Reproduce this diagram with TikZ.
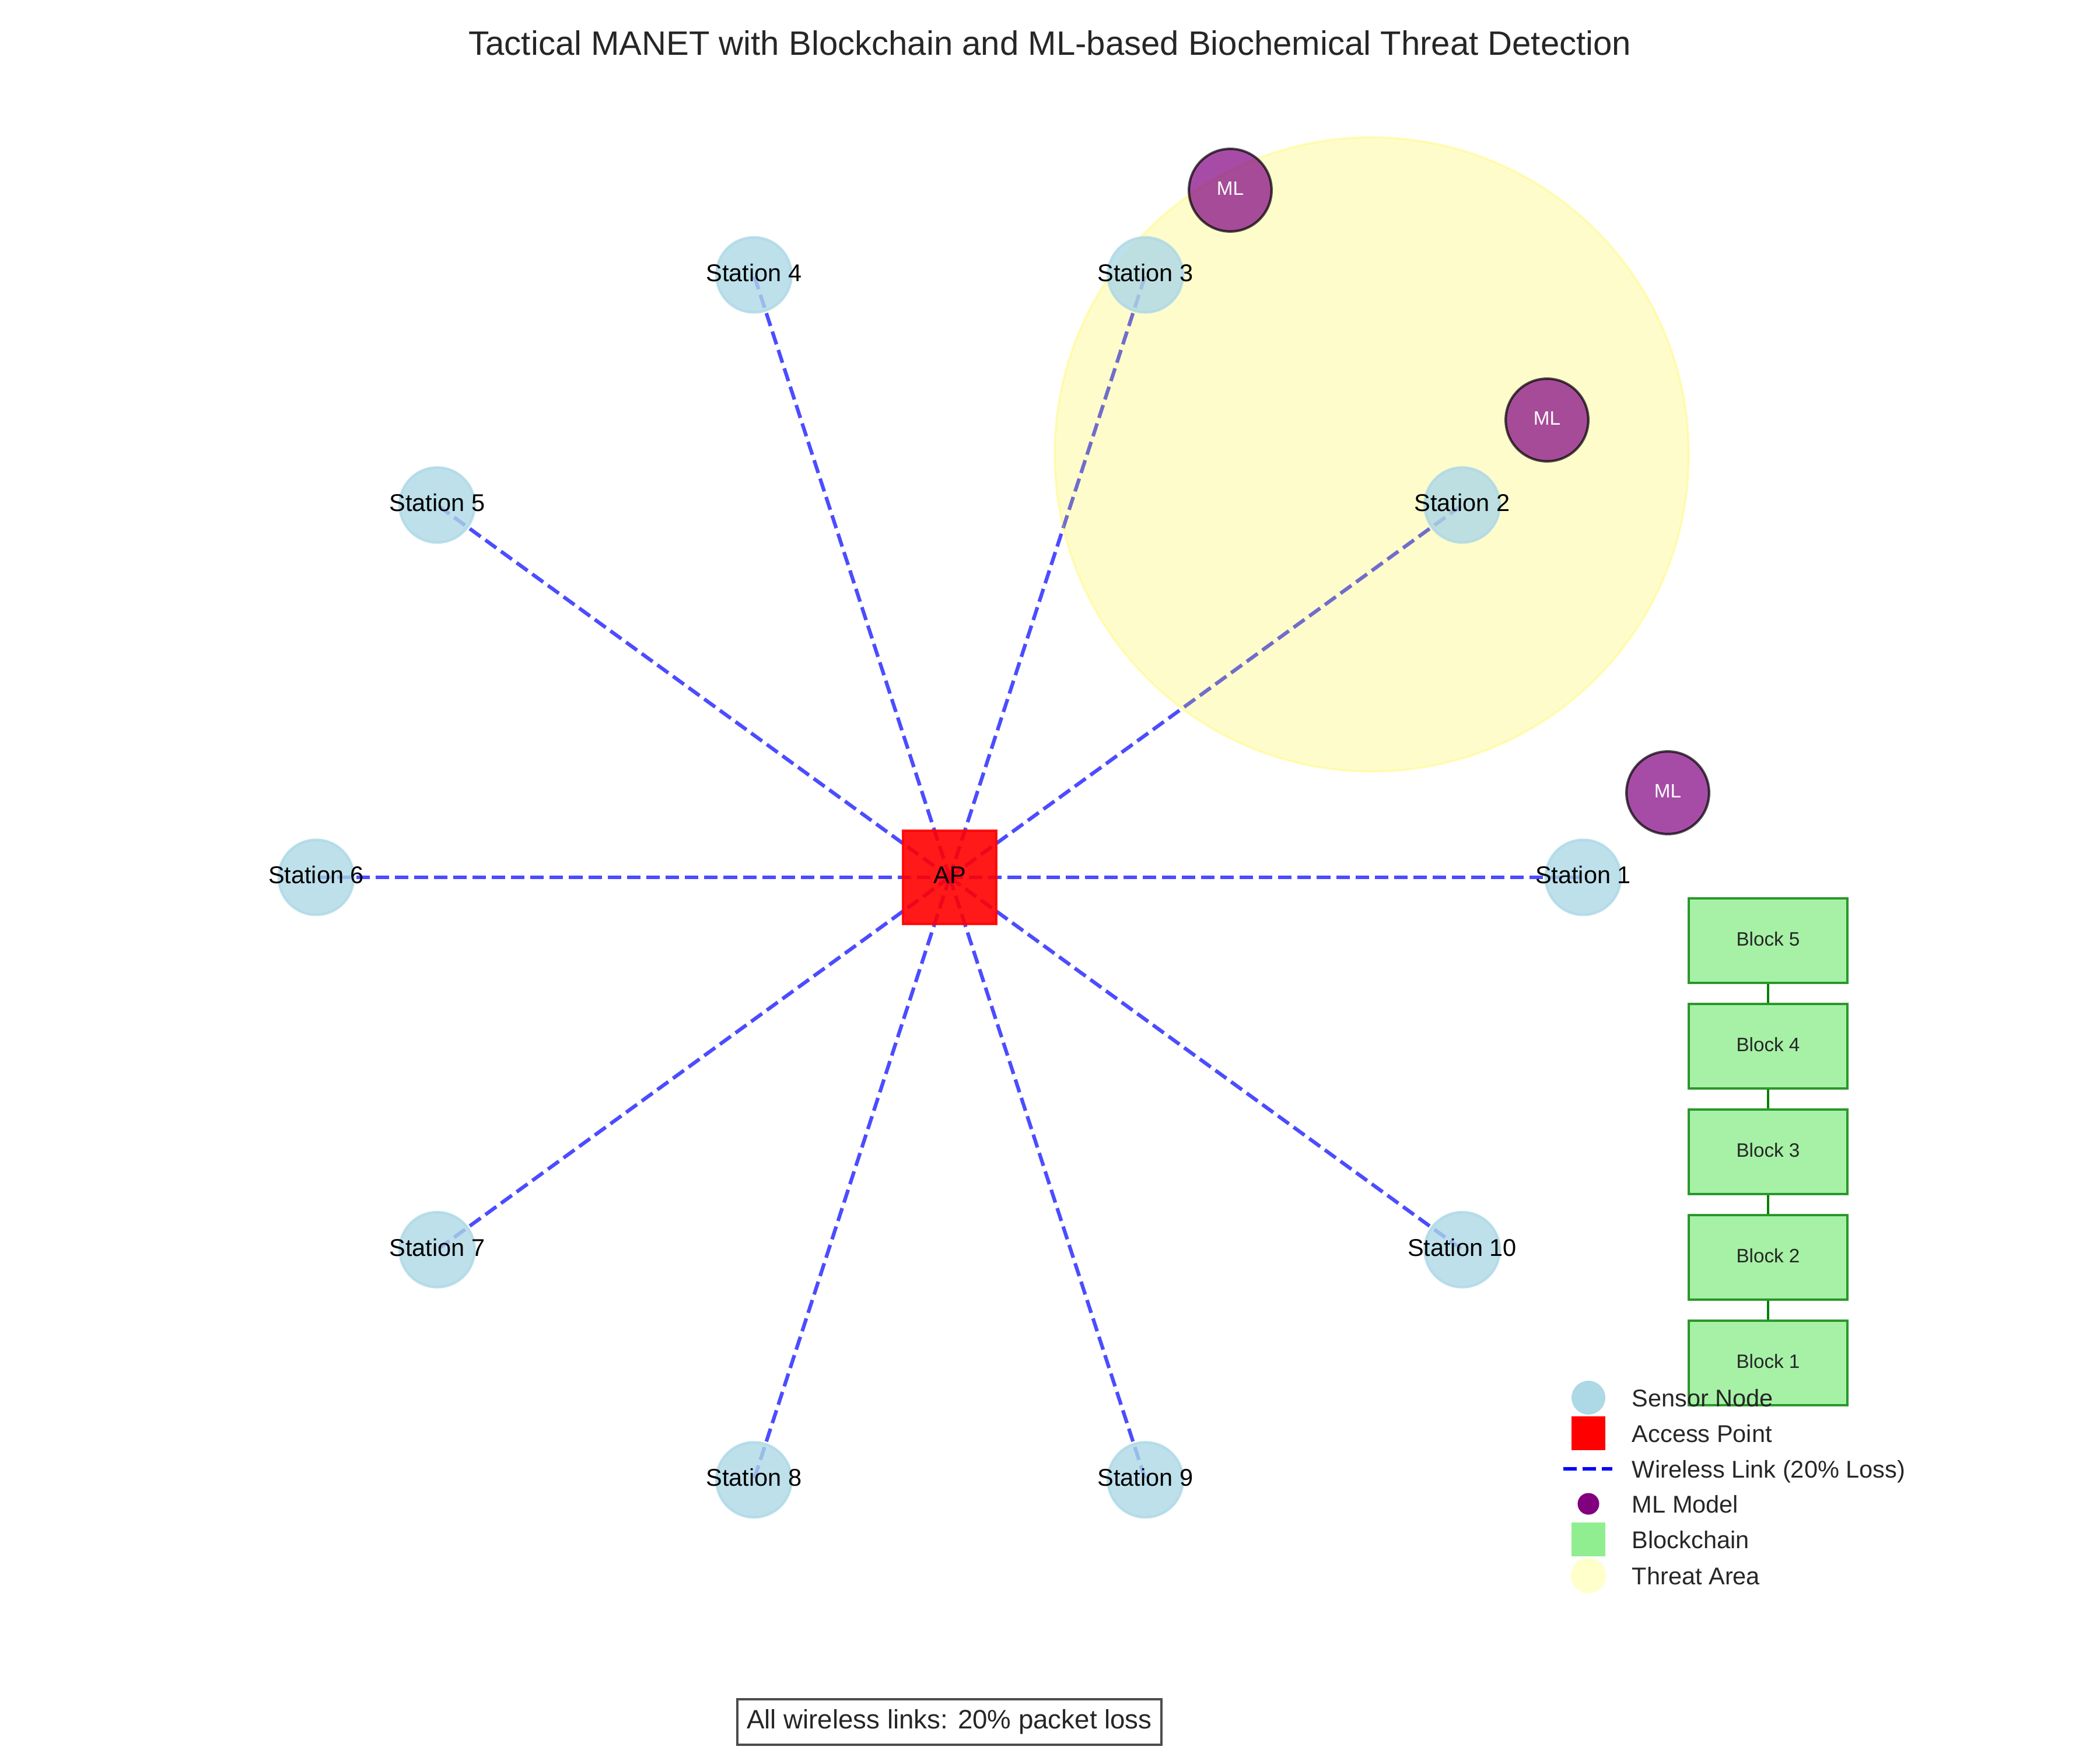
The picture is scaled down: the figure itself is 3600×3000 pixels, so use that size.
\documentclass[tikz,border=0pt]{standalone}
\usepackage{fontspec}
\setmainfont{Liberation Sans}
\definecolor{lightblue}{HTML}{ADD8E6}
\definecolor{lightgreen}{HTML}{90EE90}
\definecolor{mlpurple}{HTML}{800080}
\definecolor{chaingreen}{HTML}{008000}
\definecolor{textgrey}{HTML}{262626}
\definecolor{threatyellow}{HTML}{FFFFCC}
\pgfdeclarelayer{back}
\pgfsetlayers{back,main}
\begin{document}
\begin{tikzpicture}[x=0.24bp,y=-0.24bp,
  station/.style={circle, inner sep=0pt, minimum size=30.9bp, fill=lightblue, fill opacity=0.8,
    draw=lightblue, draw opacity=0.8, line width=1bp},
  stlabel/.style={font=\fontsize{10}{12}\selectfont, text=black, inner sep=0pt, text depth=2bp},
  apbox/.style={rectangle, inner sep=0pt, minimum size=38.4bp, fill=red, fill opacity=0.9,
    draw=red, draw opacity=0.9, line width=1bp, text=black, text opacity=1, text depth=2bp,
    font=\fontsize{10}{12}\selectfont},
  mlnode/.style={circle, inner sep=0pt, minimum size=34bp, fill=mlpurple, fill opacity=0.7,
    draw=black, draw opacity=0.7, line width=1bp, text=white, text opacity=1, text depth=1.3bp,
    font=\fontsize{8}{10}\selectfont},
  link/.style={draw=blue, draw opacity=0.7, line width=1.5bp, dash pattern=on 5.55bp off 2.4bp},
  threat/.style={circle, inner sep=0pt, minimum size=260.9bp, fill=yellow, fill opacity=0.2,
    draw=yellow, draw opacity=0.2, line width=1bp},
  blockbox/.style={rectangle, inner sep=0pt, minimum width=65.3bp, minimum height=34.8bp,
    fill=lightgreen, fill opacity=0.8, draw=chaingreen, draw opacity=0.8, line width=1bp,
    text=textgrey, text opacity=1, text depth=1.3bp, font=\fontsize{8}{10}\selectfont},
  chain/.style={draw=chaingreen, line width=1bp},
  legtext/.style={anchor=base west, inner sep=0pt, text=textgrey, font=\fontsize{10}{12}\selectfont},
  notebox/.style={rectangle, inner sep=0pt, minimum width=174.5bp, minimum height=18.7bp,
    fill=white, draw=black, draw opacity=0.7, line width=1bp, text=textgrey, text opacity=1,
    font=\fontsize{11}{13}\selectfont}
]
\useasboundingbox (0,0) rectangle (3600,3000);

% title
\node[font=\fontsize{14}{17}\selectfont, text=textgrey] (title) at (1800,74)
  {Tactical MANET with Blockchain and ML-based Biochemical Threat Detection};

% threat area (above links, below nodes)
\node[threat] (threat) at (2351.5,779) {};

% stations
\foreach \i/\x/\y in {1/2714/1504, 2/2506.6/865.7, 3/1963.6/471.2, 4/1292.4/471.2,
  5/749.4/865.7, 6/542/1504, 7/749.4/2142.3, 8/1292.4/2536.8, 9/1963.6/2536.8, 10/2506.6/2142.3}
  \node[station, label={[stlabel]center:Station \i}] (s\i) at (\x,\y) {};

% access point
\node[apbox] (ap) at (1628,1504) {AP};

% wireless links
\begin{pgfonlayer}{back}
\foreach \i in {1,...,10}
  \draw[link] (ap.center) -- (s\i.center);
\end{pgfonlayer}

% ML models
\node[mlnode] (ml1) at (2109,326) {ML};
\node[mlnode] (ml2) at (2652,720) {ML};
\node[mlnode] (ml3) at (2859,1359) {ML};

% blockchain
\node[blockbox] (b5) at (3031,1612.5) {Block 5};
\node[blockbox] (b4) at (3031,1793.5) {Block 4};
\node[blockbox] (b3) at (3031,1974.5) {Block 3};
\node[blockbox] (b2) at (3031,2155.5) {Block 2};
\node[blockbox] (b1) at (3031,2336.5) {Block 1};
\draw[chain] (b5.south) -- (b4.north);
\draw[chain] (b4.south) -- (b3.north);
\draw[chain] (b3.south) -- (b2.north);
\draw[chain] (b2.south) -- (b1.north);

% legend
\node[circle, inner sep=0pt, minimum size=13.9bp, fill=lightblue] (lg1) at (2723,2396) {};
\node[legtext] (lt1) at (2797,2411) {Sensor Node};
\node[rectangle, inner sep=0pt, minimum size=13.9bp, fill=red] (lg2) at (2723,2457) {};
\node[legtext] (lt2) at (2797,2472) {Access Point};
\coordinate (lg3a) at (2680,2518);
\coordinate (lg3b) at (2764,2518);
\draw[draw=blue, line width=1.5bp, dash pattern=on 5.55bp off 2.4bp] (lg3a) -- (lg3b);
\node[legtext] (lt3) at (2797,2533) {Wireless Link (20\% Loss)};
\node[circle, inner sep=0pt, minimum size=8.9bp, fill=mlpurple] (lg4) at (2723,2578) {};
\node[legtext] (lt4) at (2797,2593) {ML Model};
\node[rectangle, inner sep=0pt, minimum size=13.9bp, fill=lightgreen] (lg5) at (2723,2639) {};
\node[legtext] (lt5) at (2797,2654) {Blockchain};
\node[circle, inner sep=0pt, minimum size=14.6bp, fill=threatyellow] (lg6) at (2723,2701) {};
\node[legtext] (lt6) at (2797,2716) {Threat Area};

% note
\node[notebox] (note) at (1627.5,2952) {All wireless links: 20\% packet loss};
\end{tikzpicture}
\end{document}
